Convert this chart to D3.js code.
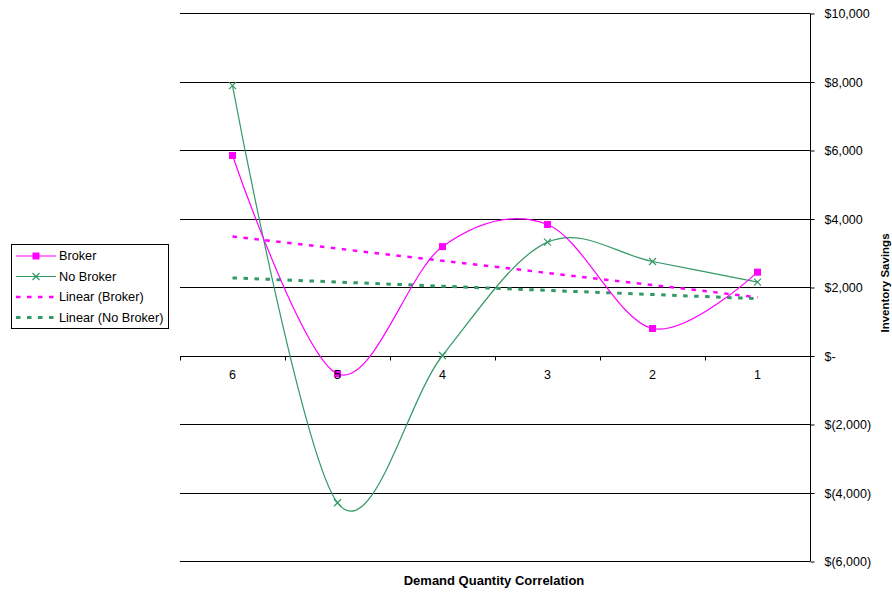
<!DOCTYPE html>
<html>
<head>
<meta charset="utf-8">
<script src="https://cdn.jsdelivr.net/npm/d3@7/dist/d3.min.js"></script>
<style>
  html, body { margin: 0; padding: 0; background: #fff; }
  svg { display: block; font-family: "Liberation Sans", Arial, sans-serif; }
</style>
</head>
<body>
<svg id="chart" width="892" height="592"></svg>
<script>
// Demand quantity correlation levels, plotted from 6 down to 1
const categories = ["6", "5", "4", "3", "2", "1"];
// Inventory savings ($) for each correlation level
const brokerValues = [5840, -535, 3180, 3825, 788, 2433];
const noBrokerValues = [7880, -4300, 0, 3309, 2745, 2141];
// Right-hand axis ticks
const yTicks = [-6000, -4000, -2000, 0, 2000, 4000, 6000, 8000, 10000];

const seriesNames = ["Broker", "No Broker", "Linear (Broker)", "Linear (No Broker)"];
const colors = { broker: "#FF00FF", noBroker: "#339966" };

const svg = d3.select("#chart");
const plot = { left: 180, right: 810, top: 13, bottom: 561 };

const xBand = d3.scaleBand().domain(categories).range([plot.left, plot.right]);
const x = d3.scalePoint().domain(categories).range([plot.left, plot.right]).padding(0.5);
const y = d3.scaleLinear().domain([-6000, 10000]).range([plot.bottom, plot.top]);

const crisp = v => Math.round(v) + 0.5;

// Horizontal gridlines
svg.append("g").selectAll("line").data(yTicks).join("line")
  .attr("x1", plot.left).attr("x2", plot.right)
  .attr("y1", d => crisp(y(d))).attr("y2", d => crisp(y(d)))
  .attr("stroke", "#000").attr("stroke-width", 1);

// Right value axis
const fmt = v => v === 0 ? "$-" : (v < 0 ? "$(" + d3.format(",")(-v) + ")" : "$" + d3.format(",")(v));
const yAxis = d3.axisRight(y).tickValues(yTicks).tickFormat(fmt).tickSize(4).tickPadding(10);
const gy = svg.append("g").attr("transform", `translate(${crisp(plot.right)},0.5)`).call(yAxis);
gy.select(".domain").attr("stroke", "#000").attr("d", `M0,${Math.round(y(10000))}V${Math.round(y(-6000))}`);
gy.selectAll(".tick line").attr("stroke", "#000");
gy.selectAll(".tick text").attr("font-size", "12.5px").attr("fill", "#000")
  .attr("font-family", "Liberation Sans, Arial, sans-serif").attr("dy", "0.35em");

// Category axis along the zero line
const gx = svg.append("g").attr("transform", `translate(0,${crisp(y(0))})`);
gx.append("line").attr("x1", plot.left).attr("x2", plot.right).attr("stroke", "#000");
const boundaries = categories.map(c => xBand(c)).concat([plot.right]);
gx.selectAll("line.tk").data(boundaries).join("line").attr("class", "tk")
  .attr("x1", d => crisp(d)).attr("x2", d => crisp(d)).attr("y1", 0).attr("y2", 4)
  .attr("stroke", "#000");

// Least-squares trend over category positions 1..n
function trend(values) {
  const xs = values.map((_, i) => i + 1);
  const mx = d3.mean(xs), my = d3.mean(values);
  const sxy = d3.sum(xs, (xi, i) => (xi - mx) * (values[i] - my));
  const sxx = d3.sum(xs, xi => (xi - mx) ** 2);
  const b = sxy / sxx, a = my - b * mx;
  return xs.map(xi => a + b * xi);
}

const line = d3.line().x((d, i) => x(categories[i])).y(d => y(d));
const smooth = d3.line().x((d, i) => x(categories[i])).y(d => y(d)).curve(d3.curveCatmullRom.alpha(0));

// Trend lines
svg.append("path").datum(trend(brokerValues)).attr("d", line)
  .attr("fill", "none").attr("stroke", colors.broker).attr("stroke-width", 2.5)
  .attr("stroke-dasharray", "4.5,6.5");
svg.append("path").datum(trend(noBrokerValues)).attr("d", line)
  .attr("fill", "none").attr("stroke", colors.noBroker).attr("stroke-width", 3)
  .attr("stroke-dasharray", "4.5,6.5");

// Smoothed series
svg.append("path").datum(noBrokerValues).attr("d", smooth)
  .attr("fill", "none").attr("stroke", colors.noBroker).attr("stroke-width", 1.2);
svg.append("path").datum(brokerValues).attr("d", smooth)
  .attr("fill", "none").attr("stroke", colors.broker).attr("stroke-width", 1.2);

// Markers
const xMark = (g, cx, cy, r) => g.append("path")
  .attr("d", `M${cx - r},${cy - r}L${cx + r},${cy + r}M${cx - r},${cy + r}L${cx + r},${cy - r}`)
  .attr("stroke", colors.noBroker).attr("stroke-width", 1.2).attr("fill", "none");
const gm = svg.append("g");
noBrokerValues.forEach((v, i) => xMark(gm, x(categories[i]), y(v), 3.5));
gm.selectAll("rect").data(brokerValues).join("rect")
  .attr("x", (d, i) => x(categories[i]) - 3.5).attr("y", d => y(d) - 3.5)
  .attr("width", 7).attr("height", 7).attr("fill", colors.broker);

// Category labels sit on top of the series
svg.append("g").attr("transform", `translate(0,${crisp(y(0))})`)
  .selectAll("text").data(categories).join("text")
  .attr("x", d => x(d)).attr("y", 22).attr("text-anchor", "middle")
  .attr("font-size", "12.5px").attr("fill", "#000").text(d => d);

// Axis titles
svg.append("text").attr("x", 494).attr("y", 585).attr("text-anchor", "middle")
  .attr("font-size", "13px").attr("font-weight", "bold").attr("fill", "#000")
  .text("Demand Quantity Correlation");
svg.append("text").attr("transform", "translate(889,283) rotate(-90)").attr("text-anchor", "middle")
  .attr("font-size", "11.5px").attr("font-weight", "bold").attr("fill", "#000")
  .text("Inventory Savings");

// Legend
const lg = svg.append("g");
lg.append("rect").attr("x", 11.5).attr("y", 244.5).attr("width", 157).attr("height", 84)
  .attr("fill", "#fff").attr("stroke", "#000");
const rowsY = [256, 276.5, 297, 317.5];
const styles = [
  { c: colors.broker, w: 1.2, dash: null, mark: "sq" },
  { c: colors.noBroker, w: 1.2, dash: null, mark: "x" },
  { c: colors.broker, w: 2.5, dash: "4.5,6.5" },
  { c: colors.noBroker, w: 3, dash: "4.5,6.5" }
];
seriesNames.forEach((name, i) => {
  const s = styles[i], yy = rowsY[i];
  lg.append("line").attr("x1", 16).attr("x2", 56).attr("y1", yy).attr("y2", yy)
    .attr("stroke", s.c).attr("stroke-width", s.w).attr("stroke-dasharray", s.dash);
  if (s.mark === "sq") lg.append("rect").attr("x", 32.5).attr("y", yy - 3.5).attr("width", 7).attr("height", 7).attr("fill", s.c);
  if (s.mark === "x") xMark(lg, 36, yy, 3.5);
  lg.append("text").attr("x", 59).attr("y", yy).attr("dy", "0.35em")
    .attr("font-size", "12.7px").attr("fill", "#000").text(name);
});
</script>
</body>
</html>
